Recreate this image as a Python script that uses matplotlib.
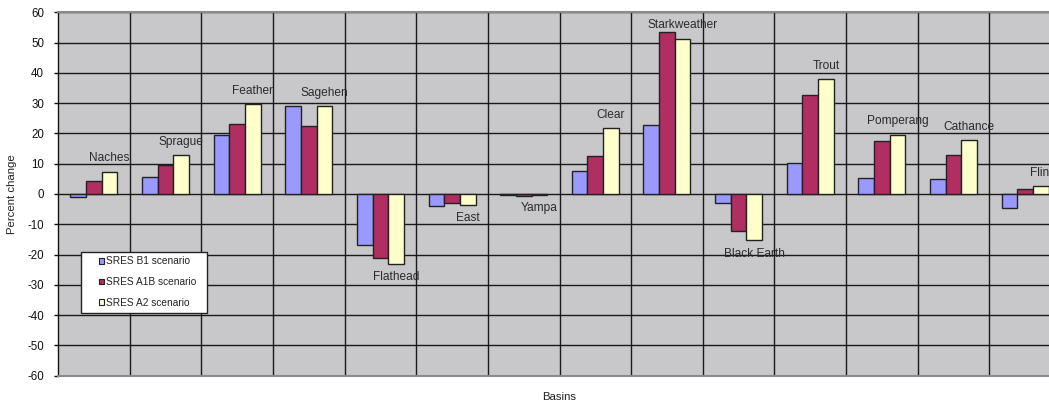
import matplotlib
matplotlib.use("Agg")
import matplotlib.pyplot as plt
from matplotlib.patches import Rectangle
import numpy as np

plt.rcParams['font.family'] = ['Liberation Sans', 'DejaVu Sans']

basins = ["Naches", "Sprague", "Feather", "Sagehen", "Flathead", "East", "Yampa",
          "Clear", "Starkweather", "Black Earth", "Trout", "Pomperang", "Cathance", "Flint"]
b1 = [-0.9, 5.6, 19.4, 29.1, -16.8, -3.9, -0.3, 7.5, 22.7, -3.1, 10.4, 5.4, 5.0, -4.5]
a1b = [4.4, 9.5, 23.0, 22.6, -21.1, -3.1, -0.5, 12.7, 53.5, -12.2, 32.7, 17.5, 12.8, 1.8]
a2 = [7.4, 12.8, 29.7, 28.9, -23.2, -3.6, -0.3, 21.8, 51.3, -15.3, 38.0, 19.6, 17.9, 2.5]
series_names = ["SRES B1 scenario", "SRES A1B scenario", "SRES A2 scenario"]
series_colors = ["#9999FF", "#B02E62", "#FFFFCC"]
yticks = list(range(-60, 61, 10))

W, H = 1049, 404
fig = plt.figure(figsize=(W / 100, H / 100), dpi=100)
ax = fig.add_axes([58 / W, 1 - 375.7 / H, 1003 / W, 363.4 / H])
ax.set_facecolor("#C8C8CA")

x = np.arange(len(basins))
bw = 0.219
for k, (vals, name, col) in enumerate(zip([b1, a1b, a2], series_names, series_colors)):
    ax.bar(x + (k - 1) * bw, vals, width=bw, color=col, edgecolor="#222222",
           linewidth=1.0, label=name, zorder=3)

# basin names placed beyond the A2 bar end
for i, name in enumerate(basins):
    v = a2[i]
    off = 9.5 if v >= 0 else -9.5
    ax.annotate(name, (x[i] + bw, v), xytext=(0, off), textcoords="offset points",
                ha="center", va="center", fontsize=8.6, color="#2a2a2a", zorder=4)

ax.set_xlim(-0.5, len(basins) - 0.5)
ax.set_ylim(-60, 60)
ax.set_yticks(yticks)
ax.set_yticklabels([str(t) for t in yticks])
ax.set_xticks(x + 0.5, minor=True)
ax.set_xticks([])
ax.tick_params(axis="y", direction="out", length=3, width=1, pad=7, labelsize=8.3,
               colors="#111111")
ax.tick_params(axis="x", which="both", length=0)

ax.grid(True, axis="y", color="#1a1a1a", linewidth=1.0, zorder=1)
ax.grid(True, axis="x", which="minor", color="#1a1a1a", linewidth=1.0, zorder=1)
ax.set_axisbelow(True)

ax.spines["left"].set_color("#111111")
ax.spines["left"].set_linewidth(1.0)
for s in ["top", "bottom"]:
    ax.spines[s].set_color("#8a8a8a")
    ax.spines[s].set_linewidth(1.5)
ax.spines["right"].set_visible(False)

fig.text(12 / W, 1 - 193.7 / H, "Percent change", rotation=90, ha="center",
         va="center", fontsize=8.2, color="#222222")
fig.text(559.5 / W, 1 - 396.5 / H, "Basins", ha="center", va="center",
         fontsize=8.2, color="#222222")

# legend box drawn as a figure-level rectangle, entries placed inside it
box = Rectangle((80.7 / W, 1 - 313.3 / H), 126 / W, 61.6 / H,
                transform=fig.transFigure, facecolor="white", edgecolor="#222222",
                linewidth=1.0, zorder=5)
fig.patches.append(box)
leg = fig.legend(*ax.get_legend_handles_labels(), loc="upper left",
                 bbox_to_anchor=(99 / W, 1 - 256.5 / H), fontsize=7.3, frameon=False,
                 handlelength=0.5, handleheight=0.5, handletextpad=0.15,
                 labelspacing=1.05, borderpad=0, borderaxespad=0)
leg.set_zorder(6)
for t in leg.get_texts():
    t.set_color("#222222")
for h in leg.legend_handles:
    h.set_linewidth(0.8)

fig.savefig("out.png", dpi=100)
